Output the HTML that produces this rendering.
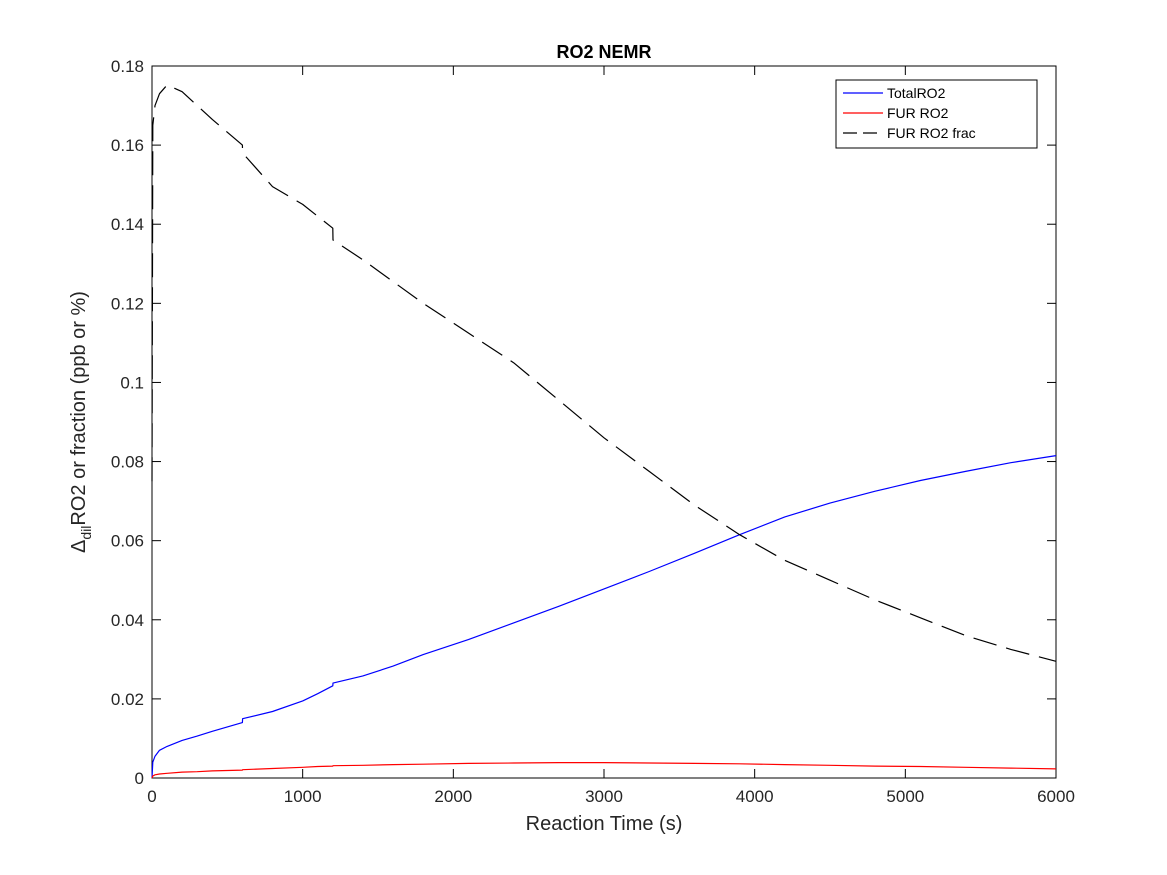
<!DOCTYPE html>
<html><head><meta charset="utf-8"><style>
body{margin:0;background:#fff;}
svg{display:block;font-family:"Liberation Sans",sans-serif;}
</style></head><body>
<svg id="chart" width="1167" height="875" viewBox="0 0 1167 875">
<rect width="1167" height="875" fill="#fff"/>
<g id="axes"></g>
<g id="series"></g>
</svg>
<script>
const times = [0,5,20,50,100,200,300,400,600,601,800,1000,1100,1200,1201,1400,1600,1800,2100,2400,2700,3000,3300,3600,3900,4200,4500,4800,5100,5400,5700,6000];
const totalRO2 = [0,0.004,0.0055,0.007,0.008,0.0095,0.0106,0.0118,0.014,0.015,0.0168,0.0195,0.0213,0.0233,0.024,0.0258,0.0283,0.0312,0.035,0.0392,0.0434,0.0478,0.0522,0.0568,0.0615,0.066,0.0695,0.0725,0.0752,0.0775,0.0797,0.0815];
const furRO2 = [0,0.0005,0.0008,0.001,0.0012,0.0015,0.0016,0.0018,0.002,0.0021,0.0024,0.0027,0.0029,0.003,0.0031,0.0032,0.0034,0.0035,0.0037,0.0038,0.0039,0.0039,0.0038,0.0037,0.0036,0.0034,0.0032,0.003,0.0029,0.0027,0.0025,0.0023];
const furFrac = [0.075,0.165,0.17,0.173,0.1752,0.1735,0.170,0.1665,0.16,0.158,0.1495,0.145,0.142,0.139,0.136,0.131,0.1255,0.12,0.1125,0.105,0.0955,0.086,0.0775,0.069,0.0615,0.055,0.050,0.045,0.0405,0.036,0.0325,0.0295];
const xTicks = [0,1000,2000,3000,4000,5000,6000];
const yTicks = [0,0.02,0.04,0.06,0.08,0.1,0.12,0.14,0.16,0.18];
const yTickLabels = ["0","0.02","0.04","0.06","0.08","0.1","0.12","0.14","0.16","0.18"];

const X0=152,X1=1056,Y0=778,Y1=66;
const sx=v=>X0+(v/6000)*(X1-X0);
const sy=v=>Y0-(v/0.18)*(Y0-Y1);
const NS="http://www.w3.org/2000/svg";
function mk(tag,attrs,parent,text){const e=document.createElementNS(NS,tag);for(const k in attrs)e.setAttribute(k,attrs[k]);if(text!==undefined)e.textContent=text;parent.appendChild(e);return e;}
const axes=document.getElementById('axes'), series=document.getElementById('series');

const box=mk('rect',{x:X0,y:Y1,width:X1-X0,height:Y0-Y1,fill:'none',stroke:'#000','stroke-width':1},axes);



xTicks.forEach(t=>{
  const x=sx(t);
  const a=mk('line',{x1:x,x2:x,y1:Y0,y2:Y0-9,stroke:'#000'},axes);
  
  
  mk('line',{x1:x,x2:x,y1:Y1,y2:Y1+9,stroke:'#000'},axes);
  const l=mk('text',{x:x,y:Y0+24,'text-anchor':'middle','font-size':17,fill:'#262626'},axes,String(t));
  
  
});
yTicks.forEach((t,i)=>{
  const y=sy(t);
  const a=mk('line',{x1:X0,x2:X0+9,y1:y,y2:y,stroke:'#000'},axes);
  
  
  mk('line',{x1:X1,x2:X1-9,y1:y,y2:y,stroke:'#000'},axes);
  const l=mk('text',{x:X0-8,y:y+6,'text-anchor':'end','font-size':17,fill:'#262626'},axes,yTickLabels[i]);
  
  
});
const title=mk('text',{x:(X0+X1)/2,y:58,'text-anchor':'middle','font-size':18,'font-weight':'bold',fill:'#000'},axes,'RO2 NEMR');


const xt=mk('text',{x:(X0+X1)/2,y:830,'text-anchor':'middle','font-size':20,fill:'#262626'},axes,'Reaction Time (s)');


const yt=mk('text',{transform:'translate(85,422) rotate(-90)','text-anchor':'middle','font-size':20,fill:'#262626'},axes);


mk('tspan',{},yt,'Δ');
mk('tspan',{'font-size':14,dy:6},yt,'dil');
mk('tspan',{dy:-6},yt,'RO2 or fraction (ppb or %)');

function line(vals,color,name,dash){
  const d=times.map((t,i)=>(i?'L':'M')+sx(t).toFixed(1)+','+sy(vals[i]).toFixed(1)).join(' ');
  const p=mk('path',{d:d,fill:'none',stroke:color,'stroke-width':1.2,'stroke-linejoin':'round'},series);
  if(dash)p.setAttribute('stroke-dasharray',dash);
  
  
}
line(totalRO2,'#0000ff','total-ro2-line');
line(furRO2,'#ff0000','fur-ro2-line');
line(furFrac,'#000','fur-ro2-frac-line','24,10');

const lg=mk('g',{},axes);


mk('rect',{x:836,y:80,width:201,height:68,fill:'#fff',stroke:'#000'},lg);
const entries=[['TotalRO2','#0000ff',null],['FUR RO2','#ff0000',null],['FUR RO2 frac','#000','14,6']];
entries.forEach((e,i)=>{
  const y=93+i*20;
  const g=mk('g',{},lg);
  
  
  const l=mk('line',{x1:843,x2:883,y1:y,y2:y,stroke:e[1],'stroke-width':1.2},g);
  if(e[2])l.setAttribute('stroke-dasharray',e[2]);
  mk('text',{x:887,y:y+5,'font-size':14,fill:'#000'},g,e[0]);
});
</script>
</body></html>
